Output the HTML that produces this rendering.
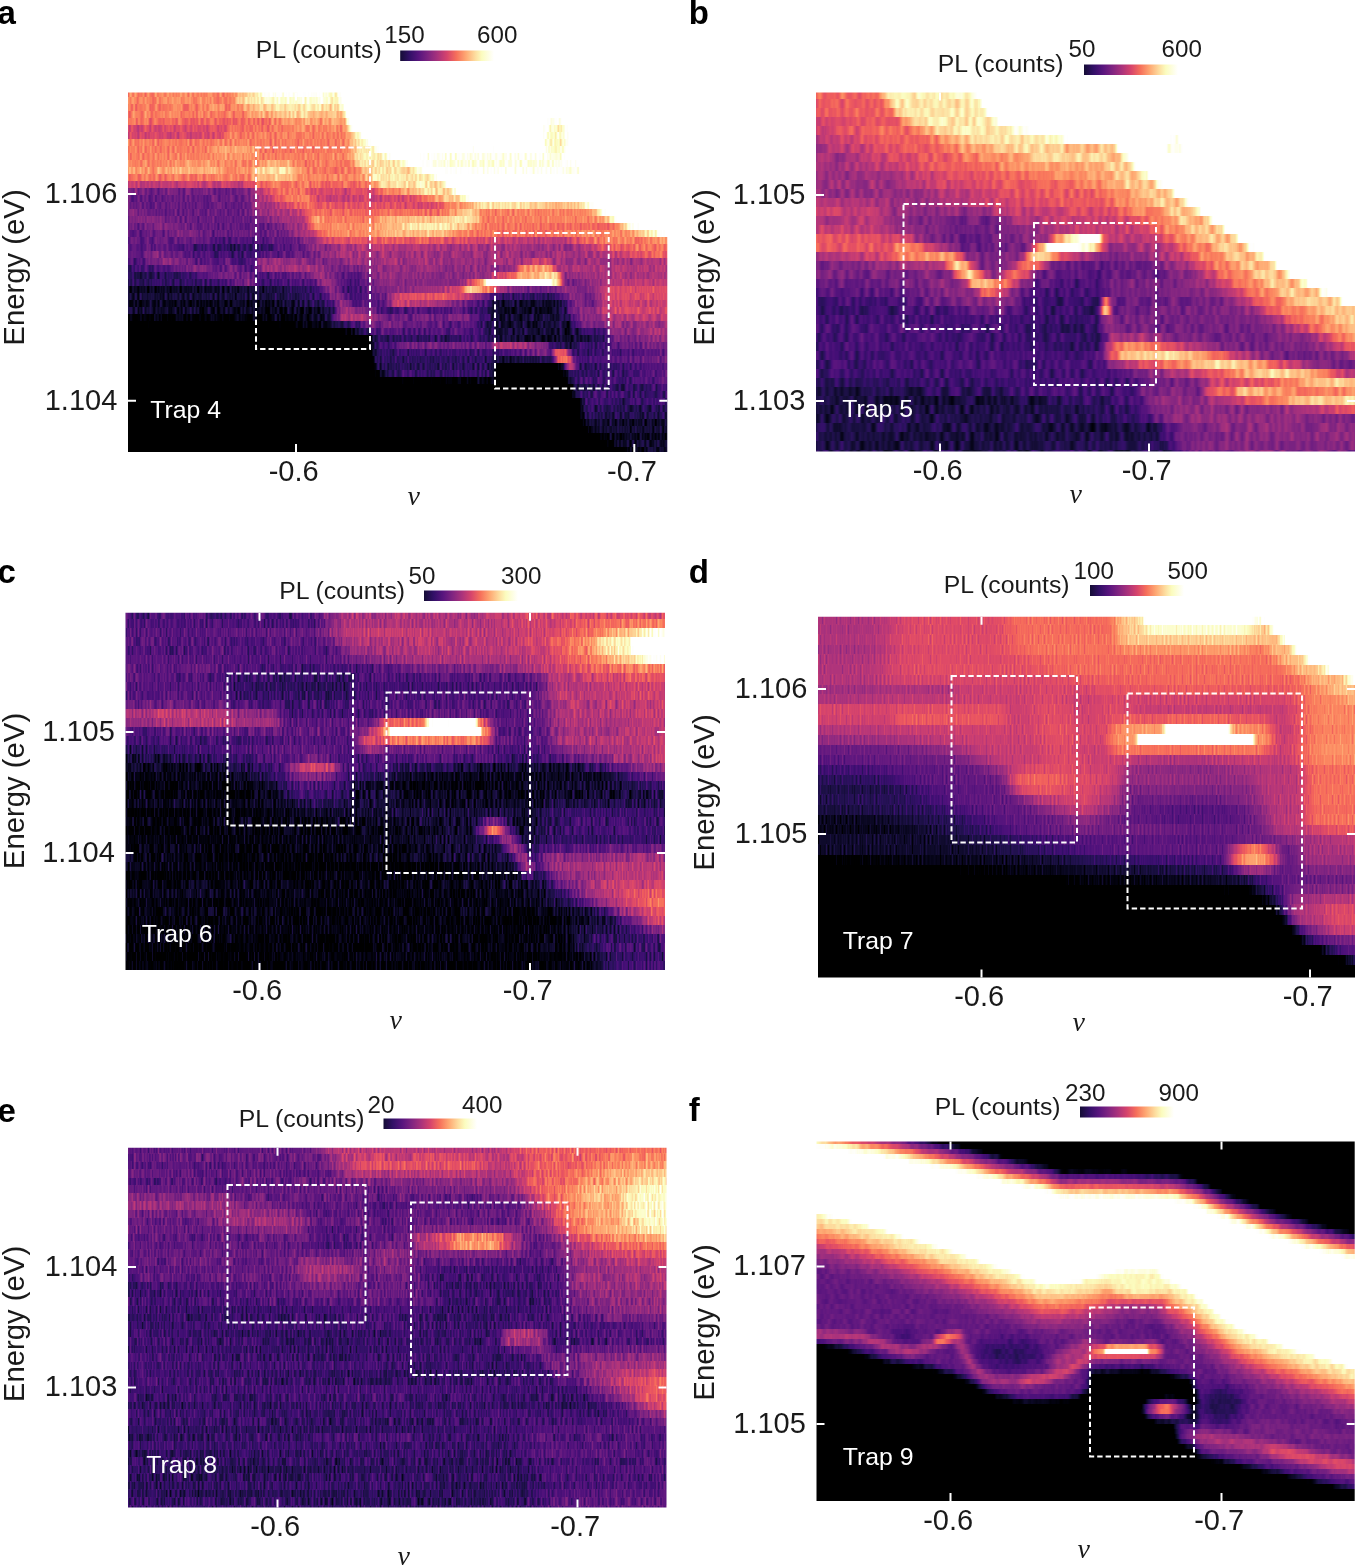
<!DOCTYPE html>
<html lang="en"><head><meta charset="utf-8"><title>PL maps of traps 4-9</title>
<style>html,body{margin:0;padding:0;background:#fff}body{width:1358px;height:1566px;overflow:hidden;position:relative}svg{display:block;position:absolute;left:0;top:0}text{font-family:"Liberation Sans",sans-serif;fill:#1a1a1a}.tk{font-size:29px}.sm{font-size:24.8px}.nm{font-size:24.2px}.ax{font-size:29.3px}.pl{font-size:33px;font-weight:bold;fill:#000}.nu{font-family:"Liberation Serif",serif;font-style:italic;font-size:28px}.tr{fill:#fff;font-size:24.8px}.bx{fill:none;stroke:#fff;stroke-width:2;stroke-dasharray:5.4 3}.ti{stroke:#fff;stroke-width:2}</style></head><body>
<svg width="1358" height="1566" viewBox="0 0 1358 1566">
<defs>
<linearGradient id="cb" x1="0" x2="1" y1="0" y2="0">
<stop offset="0.00" stop-color="#140d35"/>
<stop offset="0.10" stop-color="#321067"/>
<stop offset="0.20" stop-color="#58157e"/>
<stop offset="0.30" stop-color="#7f2481"/>
<stop offset="0.40" stop-color="#a9327c"/>
<stop offset="0.50" stop-color="#d6446c"/>
<stop offset="0.60" stop-color="#f6705b"/>
<stop offset="0.70" stop-color="#fea873"/>
<stop offset="0.80" stop-color="#fddd9f"/>
<stop offset="0.87" stop-color="#fbfcbf"/>
<stop offset="1" stop-color="#fff"/></linearGradient>
<filter id="ba12" filterUnits="userSpaceOnUse" x="83" y="47.5" width="629.3" height="449.5" color-interpolation-filters="sRGB"><feGaussianBlur stdDeviation="12"/></filter>
<filter id="ba2" filterUnits="userSpaceOnUse" x="83" y="47.5" width="629.3" height="449.5" color-interpolation-filters="sRGB"><feGaussianBlur stdDeviation="2"/></filter>
<filter id="ba2_5" filterUnits="userSpaceOnUse" x="83" y="47.5" width="629.3" height="449.5" color-interpolation-filters="sRGB"><feGaussianBlur stdDeviation="2.5"/></filter>
<filter id="ba3" filterUnits="userSpaceOnUse" x="83" y="47.5" width="629.3" height="449.5" color-interpolation-filters="sRGB"><feGaussianBlur stdDeviation="3"/></filter>
<filter id="ba3_5" filterUnits="userSpaceOnUse" x="83" y="47.5" width="629.3" height="449.5" color-interpolation-filters="sRGB"><feGaussianBlur stdDeviation="3.5"/></filter>
<filter id="ba4" filterUnits="userSpaceOnUse" x="83" y="47.5" width="629.3" height="449.5" color-interpolation-filters="sRGB"><feGaussianBlur stdDeviation="4"/></filter>
<filter id="ba5" filterUnits="userSpaceOnUse" x="83" y="47.5" width="629.3" height="449.5" color-interpolation-filters="sRGB"><feGaussianBlur stdDeviation="5"/></filter>
<filter id="ba6" filterUnits="userSpaceOnUse" x="83" y="47.5" width="629.3" height="449.5" color-interpolation-filters="sRGB"><feGaussianBlur stdDeviation="6"/></filter>
<filter id="ba7" filterUnits="userSpaceOnUse" x="83" y="47.5" width="629.3" height="449.5" color-interpolation-filters="sRGB"><feGaussianBlur stdDeviation="7"/></filter>
<filter id="ba8" filterUnits="userSpaceOnUse" x="83" y="47.5" width="629.3" height="449.5" color-interpolation-filters="sRGB"><feGaussianBlur stdDeviation="8"/></filter>
<filter id="ba9" filterUnits="userSpaceOnUse" x="83" y="47.5" width="629.3" height="449.5" color-interpolation-filters="sRGB"><feGaussianBlur stdDeviation="9"/></filter>
<filter id="bb10" filterUnits="userSpaceOnUse" x="771" y="47.5" width="629" height="449.0" color-interpolation-filters="sRGB"><feGaussianBlur stdDeviation="10"/></filter>
<filter id="bb2" filterUnits="userSpaceOnUse" x="771" y="47.5" width="629" height="449.0" color-interpolation-filters="sRGB"><feGaussianBlur stdDeviation="2"/></filter>
<filter id="bb2_2" filterUnits="userSpaceOnUse" x="771" y="47.5" width="629" height="449.0" color-interpolation-filters="sRGB"><feGaussianBlur stdDeviation="2.2"/></filter>
<filter id="bb3" filterUnits="userSpaceOnUse" x="771" y="47.5" width="629" height="449.0" color-interpolation-filters="sRGB"><feGaussianBlur stdDeviation="3"/></filter>
<filter id="bb3_5" filterUnits="userSpaceOnUse" x="771" y="47.5" width="629" height="449.0" color-interpolation-filters="sRGB"><feGaussianBlur stdDeviation="3.5"/></filter>
<filter id="bb4" filterUnits="userSpaceOnUse" x="771" y="47.5" width="629" height="449.0" color-interpolation-filters="sRGB"><feGaussianBlur stdDeviation="4"/></filter>
<filter id="bb4_5" filterUnits="userSpaceOnUse" x="771" y="47.5" width="629" height="449.0" color-interpolation-filters="sRGB"><feGaussianBlur stdDeviation="4.5"/></filter>
<filter id="bb5" filterUnits="userSpaceOnUse" x="771" y="47.5" width="629" height="449.0" color-interpolation-filters="sRGB"><feGaussianBlur stdDeviation="5"/></filter>
<filter id="bb6" filterUnits="userSpaceOnUse" x="771" y="47.5" width="629" height="449.0" color-interpolation-filters="sRGB"><feGaussianBlur stdDeviation="6"/></filter>
<filter id="bb7" filterUnits="userSpaceOnUse" x="771" y="47.5" width="629" height="449.0" color-interpolation-filters="sRGB"><feGaussianBlur stdDeviation="7"/></filter>
<filter id="bb8" filterUnits="userSpaceOnUse" x="771" y="47.5" width="629" height="449.0" color-interpolation-filters="sRGB"><feGaussianBlur stdDeviation="8"/></filter>
<filter id="bb9" filterUnits="userSpaceOnUse" x="771" y="47.5" width="629" height="449.0" color-interpolation-filters="sRGB"><feGaussianBlur stdDeviation="9"/></filter>
<filter id="bc1_8" filterUnits="userSpaceOnUse" x="80.5" y="567.8" width="629.5" height="448.20000000000005" color-interpolation-filters="sRGB"><feGaussianBlur stdDeviation="1.8"/></filter>
<filter id="bc10" filterUnits="userSpaceOnUse" x="80.5" y="567.8" width="629.5" height="448.20000000000005" color-interpolation-filters="sRGB"><feGaussianBlur stdDeviation="10"/></filter>
<filter id="bc2" filterUnits="userSpaceOnUse" x="80.5" y="567.8" width="629.5" height="448.20000000000005" color-interpolation-filters="sRGB"><feGaussianBlur stdDeviation="2"/></filter>
<filter id="bc2_2" filterUnits="userSpaceOnUse" x="80.5" y="567.8" width="629.5" height="448.20000000000005" color-interpolation-filters="sRGB"><feGaussianBlur stdDeviation="2.2"/></filter>
<filter id="bc2_5" filterUnits="userSpaceOnUse" x="80.5" y="567.8" width="629.5" height="448.20000000000005" color-interpolation-filters="sRGB"><feGaussianBlur stdDeviation="2.5"/></filter>
<filter id="bc3" filterUnits="userSpaceOnUse" x="80.5" y="567.8" width="629.5" height="448.20000000000005" color-interpolation-filters="sRGB"><feGaussianBlur stdDeviation="3"/></filter>
<filter id="bc3_5" filterUnits="userSpaceOnUse" x="80.5" y="567.8" width="629.5" height="448.20000000000005" color-interpolation-filters="sRGB"><feGaussianBlur stdDeviation="3.5"/></filter>
<filter id="bc4" filterUnits="userSpaceOnUse" x="80.5" y="567.8" width="629.5" height="448.20000000000005" color-interpolation-filters="sRGB"><feGaussianBlur stdDeviation="4"/></filter>
<filter id="bc4_5" filterUnits="userSpaceOnUse" x="80.5" y="567.8" width="629.5" height="448.20000000000005" color-interpolation-filters="sRGB"><feGaussianBlur stdDeviation="4.5"/></filter>
<filter id="bc5" filterUnits="userSpaceOnUse" x="80.5" y="567.8" width="629.5" height="448.20000000000005" color-interpolation-filters="sRGB"><feGaussianBlur stdDeviation="5"/></filter>
<filter id="bc6" filterUnits="userSpaceOnUse" x="80.5" y="567.8" width="629.5" height="448.20000000000005" color-interpolation-filters="sRGB"><feGaussianBlur stdDeviation="6"/></filter>
<filter id="bc7" filterUnits="userSpaceOnUse" x="80.5" y="567.8" width="629.5" height="448.20000000000005" color-interpolation-filters="sRGB"><feGaussianBlur stdDeviation="7"/></filter>
<filter id="bc8" filterUnits="userSpaceOnUse" x="80.5" y="567.8" width="629.5" height="448.20000000000005" color-interpolation-filters="sRGB"><feGaussianBlur stdDeviation="8"/></filter>
<filter id="bc9" filterUnits="userSpaceOnUse" x="80.5" y="567.8" width="629.5" height="448.20000000000005" color-interpolation-filters="sRGB"><feGaussianBlur stdDeviation="9"/></filter>
<filter id="bd10" filterUnits="userSpaceOnUse" x="773" y="571.8" width="627" height="450.70000000000005" color-interpolation-filters="sRGB"><feGaussianBlur stdDeviation="10"/></filter>
<filter id="bd12" filterUnits="userSpaceOnUse" x="773" y="571.8" width="627" height="450.70000000000005" color-interpolation-filters="sRGB"><feGaussianBlur stdDeviation="12"/></filter>
<filter id="bd2" filterUnits="userSpaceOnUse" x="773" y="571.8" width="627" height="450.70000000000005" color-interpolation-filters="sRGB"><feGaussianBlur stdDeviation="2"/></filter>
<filter id="bd2_2" filterUnits="userSpaceOnUse" x="773" y="571.8" width="627" height="450.70000000000005" color-interpolation-filters="sRGB"><feGaussianBlur stdDeviation="2.2"/></filter>
<filter id="bd3" filterUnits="userSpaceOnUse" x="773" y="571.8" width="627" height="450.70000000000005" color-interpolation-filters="sRGB"><feGaussianBlur stdDeviation="3"/></filter>
<filter id="bd4" filterUnits="userSpaceOnUse" x="773" y="571.8" width="627" height="450.70000000000005" color-interpolation-filters="sRGB"><feGaussianBlur stdDeviation="4"/></filter>
<filter id="bd4_5" filterUnits="userSpaceOnUse" x="773" y="571.8" width="627" height="450.70000000000005" color-interpolation-filters="sRGB"><feGaussianBlur stdDeviation="4.5"/></filter>
<filter id="bd5" filterUnits="userSpaceOnUse" x="773" y="571.8" width="627" height="450.70000000000005" color-interpolation-filters="sRGB"><feGaussianBlur stdDeviation="5"/></filter>
<filter id="bd5_5" filterUnits="userSpaceOnUse" x="773" y="571.8" width="627" height="450.70000000000005" color-interpolation-filters="sRGB"><feGaussianBlur stdDeviation="5.5"/></filter>
<filter id="bd6" filterUnits="userSpaceOnUse" x="773" y="571.8" width="627" height="450.70000000000005" color-interpolation-filters="sRGB"><feGaussianBlur stdDeviation="6"/></filter>
<filter id="bd7" filterUnits="userSpaceOnUse" x="773" y="571.8" width="627" height="450.70000000000005" color-interpolation-filters="sRGB"><feGaussianBlur stdDeviation="7"/></filter>
<filter id="bd8" filterUnits="userSpaceOnUse" x="773" y="571.8" width="627" height="450.70000000000005" color-interpolation-filters="sRGB"><feGaussianBlur stdDeviation="8"/></filter>
<filter id="bd9" filterUnits="userSpaceOnUse" x="773" y="571.8" width="627" height="450.70000000000005" color-interpolation-filters="sRGB"><feGaussianBlur stdDeviation="9"/></filter>
<filter id="be10" filterUnits="userSpaceOnUse" x="83" y="1102.8" width="628.5" height="449.70000000000005" color-interpolation-filters="sRGB"><feGaussianBlur stdDeviation="10"/></filter>
<filter id="be12" filterUnits="userSpaceOnUse" x="83" y="1102.8" width="628.5" height="449.70000000000005" color-interpolation-filters="sRGB"><feGaussianBlur stdDeviation="12"/></filter>
<filter id="be2_2" filterUnits="userSpaceOnUse" x="83" y="1102.8" width="628.5" height="449.70000000000005" color-interpolation-filters="sRGB"><feGaussianBlur stdDeviation="2.2"/></filter>
<filter id="be3" filterUnits="userSpaceOnUse" x="83" y="1102.8" width="628.5" height="449.70000000000005" color-interpolation-filters="sRGB"><feGaussianBlur stdDeviation="3"/></filter>
<filter id="be4" filterUnits="userSpaceOnUse" x="83" y="1102.8" width="628.5" height="449.70000000000005" color-interpolation-filters="sRGB"><feGaussianBlur stdDeviation="4"/></filter>
<filter id="be4_5" filterUnits="userSpaceOnUse" x="83" y="1102.8" width="628.5" height="449.70000000000005" color-interpolation-filters="sRGB"><feGaussianBlur stdDeviation="4.5"/></filter>
<filter id="be5" filterUnits="userSpaceOnUse" x="83" y="1102.8" width="628.5" height="449.70000000000005" color-interpolation-filters="sRGB"><feGaussianBlur stdDeviation="5"/></filter>
<filter id="be6" filterUnits="userSpaceOnUse" x="83" y="1102.8" width="628.5" height="449.70000000000005" color-interpolation-filters="sRGB"><feGaussianBlur stdDeviation="6"/></filter>
<filter id="be7" filterUnits="userSpaceOnUse" x="83" y="1102.8" width="628.5" height="449.70000000000005" color-interpolation-filters="sRGB"><feGaussianBlur stdDeviation="7"/></filter>
<filter id="be8" filterUnits="userSpaceOnUse" x="83" y="1102.8" width="628.5" height="449.70000000000005" color-interpolation-filters="sRGB"><feGaussianBlur stdDeviation="8"/></filter>
<filter id="be9" filterUnits="userSpaceOnUse" x="83" y="1102.8" width="628.5" height="449.70000000000005" color-interpolation-filters="sRGB"><feGaussianBlur stdDeviation="9"/></filter>
<filter id="bf1_5" filterUnits="userSpaceOnUse" x="771.5" y="1096.5" width="628.2" height="449.5" color-interpolation-filters="sRGB"><feGaussianBlur stdDeviation="1.5"/></filter>
<filter id="bf2" filterUnits="userSpaceOnUse" x="771.5" y="1096.5" width="628.2" height="449.5" color-interpolation-filters="sRGB"><feGaussianBlur stdDeviation="2"/></filter>
<filter id="bf2_2" filterUnits="userSpaceOnUse" x="771.5" y="1096.5" width="628.2" height="449.5" color-interpolation-filters="sRGB"><feGaussianBlur stdDeviation="2.2"/></filter>
<filter id="bf2_5" filterUnits="userSpaceOnUse" x="771.5" y="1096.5" width="628.2" height="449.5" color-interpolation-filters="sRGB"><feGaussianBlur stdDeviation="2.5"/></filter>
<filter id="bf2_8" filterUnits="userSpaceOnUse" x="771.5" y="1096.5" width="628.2" height="449.5" color-interpolation-filters="sRGB"><feGaussianBlur stdDeviation="2.8"/></filter>
<filter id="bf3" filterUnits="userSpaceOnUse" x="771.5" y="1096.5" width="628.2" height="449.5" color-interpolation-filters="sRGB"><feGaussianBlur stdDeviation="3"/></filter>
<filter id="bf3_5" filterUnits="userSpaceOnUse" x="771.5" y="1096.5" width="628.2" height="449.5" color-interpolation-filters="sRGB"><feGaussianBlur stdDeviation="3.5"/></filter>
<filter id="bf4" filterUnits="userSpaceOnUse" x="771.5" y="1096.5" width="628.2" height="449.5" color-interpolation-filters="sRGB"><feGaussianBlur stdDeviation="4"/></filter>
<filter id="bf5" filterUnits="userSpaceOnUse" x="771.5" y="1096.5" width="628.2" height="449.5" color-interpolation-filters="sRGB"><feGaussianBlur stdDeviation="5"/></filter>
<filter id="bf7" filterUnits="userSpaceOnUse" x="771.5" y="1096.5" width="628.2" height="449.5" color-interpolation-filters="sRGB"><feGaussianBlur stdDeviation="7"/></filter>
<clipPath id="cpa"><rect x="128" y="92.5" width="539.3" height="359.5"/></clipPath>
<filter id="cma" filterUnits="userSpaceOnUse" x="126" y="90" width="545" height="365" color-interpolation-filters="sRGB">
<feTurbulence type="fractalNoise" baseFrequency="0.4 0.7" numOctaves="1" seed="97" result="t"/>
<feColorMatrix in="t" type="matrix" values="1 0 0 0 0 1 0 0 0 0 1 0 0 0 0 0 0 0 0 1" result="n"/>
<feComposite in="SourceGraphic" in2="n" operator="arithmetic" k1="0" k2="1" k3="0.22" k4="-0.11" result="s"/>
<feTurbulence type="fractalNoise" baseFrequency="0.004 0.45" numOctaves="1" seed="137" result="t2"/>
<feColorMatrix in="t2" type="matrix" values="1 0 0 0 0 1 0 0 0 0 1 0 0 0 0 0 0 0 0 1" result="n2"/>
<feComposite in="s" in2="n2" operator="arithmetic" k1="0" k2="1" k3="0.1" k4="-0.05" result="s"/>
<feFlood flood-color="#000" x="126" y="93" width="545" height="1" result="f"/>
<feComposite in="f" in2="f" operator="over" x="126" y="90" width="545" height="7" result="c"/>
<feTile in="c" result="tl"/>
<feComposite in="s" in2="tl" operator="in" result="ln"/>
<feMorphology in="ln" operator="dilate" radius="0 3" result="q"/>
<feComponentTransfer in="q"><feFuncR type="table" tableValues="0.000 0.000 0.000 0.000 0.000 0.000 0.011 0.036 0.070 0.108 0.147 0.198 0.252 0.304 0.348 0.396 0.445 0.494 0.538 0.588 0.639 0.691 0.736 0.786 0.835 0.879 0.913 0.944 0.966 0.980 0.988 0.993 0.996 0.997 0.997 0.995 0.992 0.989 0.987 0.991 0.995 0.999 1.000 1.000 1.000 1.000 1.000 1.000 1.000 1.000 1.000"/><feFuncG type="table" tableValues="0.000 0.000 0.000 0.000 0.000 0.000 0.010 0.028 0.050 0.064 0.069 0.064 0.059 0.068 0.083 0.103 0.123 0.141 0.157 0.174 0.190 0.206 0.222 0.242 0.266 0.296 0.330 0.378 0.433 0.491 0.543 0.602 0.661 0.719 0.770 0.827 0.884 0.941 0.991 0.994 0.997 0.999 1.000 1.000 1.000 1.000 1.000 1.000 1.000 1.000 1.000"/><feFuncB type="table" tableValues="0.000 0.000 0.000 0.000 0.000 0.000 0.061 0.125 0.194 0.267 0.334 0.404 0.453 0.481 0.494 0.503 0.507 0.508 0.507 0.502 0.494 0.483 0.469 0.450 0.428 0.403 0.383 0.365 0.360 0.368 0.385 0.414 0.451 0.494 0.535 0.586 0.640 0.698 0.750 0.825 0.901 0.977 1.000 1.000 1.000 1.000 1.000 1.000 1.000 1.000 1.000"/></feComponentTransfer>
</filter>
<clipPath id="cpb"><rect x="816" y="92.5" width="539" height="359.0"/></clipPath>
<filter id="cmb" filterUnits="userSpaceOnUse" x="814" y="90" width="545" height="365" color-interpolation-filters="sRGB">
<feTurbulence type="fractalNoise" baseFrequency="0.2 0.7" numOctaves="1" seed="98" result="t"/>
<feColorMatrix in="t" type="matrix" values="1 0 0 0 0 1 0 0 0 0 1 0 0 0 0 0 0 0 0 1" result="n"/>
<feComposite in="SourceGraphic" in2="n" operator="arithmetic" k1="0" k2="1" k3="0.2" k4="-0.1" result="s"/>
<feTurbulence type="fractalNoise" baseFrequency="0.004 0.45" numOctaves="1" seed="138" result="t2"/>
<feColorMatrix in="t2" type="matrix" values="1 0 0 0 0 1 0 0 0 0 1 0 0 0 0 0 0 0 0 1" result="n2"/>
<feComposite in="s" in2="n2" operator="arithmetic" k1="0" k2="1" k3="0.06" k4="-0.03" result="s"/>
<feFlood flood-color="#000" x="814" y="94" width="545" height="1" result="f"/>
<feComposite in="f" in2="f" operator="over" x="814" y="90" width="545" height="9" result="c"/>
<feTile in="c" result="tl"/>
<feComposite in="s" in2="tl" operator="in" result="ln"/>
<feMorphology in="ln" operator="dilate" radius="0 4" result="q"/>
<feComponentTransfer in="q"><feFuncR type="table" tableValues="0.000 0.000 0.000 0.000 0.000 0.000 0.011 0.036 0.070 0.108 0.147 0.198 0.252 0.304 0.348 0.396 0.445 0.494 0.538 0.588 0.639 0.691 0.736 0.786 0.835 0.879 0.913 0.944 0.966 0.980 0.988 0.993 0.996 0.997 0.997 0.995 0.992 0.989 0.987 0.991 0.995 0.999 1.000 1.000 1.000 1.000 1.000 1.000 1.000 1.000 1.000"/><feFuncG type="table" tableValues="0.000 0.000 0.000 0.000 0.000 0.000 0.010 0.028 0.050 0.064 0.069 0.064 0.059 0.068 0.083 0.103 0.123 0.141 0.157 0.174 0.190 0.206 0.222 0.242 0.266 0.296 0.330 0.378 0.433 0.491 0.543 0.602 0.661 0.719 0.770 0.827 0.884 0.941 0.991 0.994 0.997 0.999 1.000 1.000 1.000 1.000 1.000 1.000 1.000 1.000 1.000"/><feFuncB type="table" tableValues="0.000 0.000 0.000 0.000 0.000 0.000 0.061 0.125 0.194 0.267 0.334 0.404 0.453 0.481 0.494 0.503 0.507 0.508 0.507 0.502 0.494 0.483 0.469 0.450 0.428 0.403 0.383 0.365 0.360 0.368 0.385 0.414 0.451 0.494 0.535 0.586 0.640 0.698 0.750 0.825 0.901 0.977 1.000 1.000 1.000 1.000 1.000 1.000 1.000 1.000 1.000"/></feComponentTransfer>
</filter>
<clipPath id="cpc"><rect x="125.5" y="612.8" width="539.5" height="358.20000000000005"/></clipPath>
<filter id="cmc" filterUnits="userSpaceOnUse" x="123" y="610" width="545" height="364" color-interpolation-filters="sRGB">
<feTurbulence type="fractalNoise" baseFrequency="0.5 0.7" numOctaves="1" seed="99" result="t"/>
<feColorMatrix in="t" type="matrix" values="1 0 0 0 0 1 0 0 0 0 1 0 0 0 0 0 0 0 0 1" result="n"/>
<feComposite in="SourceGraphic" in2="n" operator="arithmetic" k1="0" k2="1" k3="0.26" k4="-0.13" result="s"/>
<feTurbulence type="fractalNoise" baseFrequency="0.004 0.45" numOctaves="1" seed="139" result="t2"/>
<feColorMatrix in="t2" type="matrix" values="1 0 0 0 0 1 0 0 0 0 1 0 0 0 0 0 0 0 0 1" result="n2"/>
<feComposite in="s" in2="n2" operator="arithmetic" k1="0" k2="1" k3="0.1" k4="-0.05" result="s"/>
<feFlood flood-color="#000" x="123" y="614" width="545" height="1" result="f"/>
<feComposite in="f" in2="f" operator="over" x="123" y="610" width="545" height="9" result="c"/>
<feTile in="c" result="tl"/>
<feComposite in="s" in2="tl" operator="in" result="ln"/>
<feMorphology in="ln" operator="dilate" radius="0 4" result="q"/>
<feComponentTransfer in="q"><feFuncR type="table" tableValues="0.000 0.000 0.000 0.000 0.000 0.000 0.011 0.036 0.070 0.108 0.147 0.198 0.252 0.304 0.348 0.396 0.445 0.494 0.538 0.588 0.639 0.691 0.736 0.786 0.835 0.879 0.913 0.944 0.966 0.980 0.988 0.993 0.996 0.997 0.997 0.995 0.992 0.989 0.987 0.991 0.995 0.999 1.000 1.000 1.000 1.000 1.000 1.000 1.000 1.000 1.000"/><feFuncG type="table" tableValues="0.000 0.000 0.000 0.000 0.000 0.000 0.010 0.028 0.050 0.064 0.069 0.064 0.059 0.068 0.083 0.103 0.123 0.141 0.157 0.174 0.190 0.206 0.222 0.242 0.266 0.296 0.330 0.378 0.433 0.491 0.543 0.602 0.661 0.719 0.770 0.827 0.884 0.941 0.991 0.994 0.997 0.999 1.000 1.000 1.000 1.000 1.000 1.000 1.000 1.000 1.000"/><feFuncB type="table" tableValues="0.000 0.000 0.000 0.000 0.000 0.000 0.061 0.125 0.194 0.267 0.334 0.404 0.453 0.481 0.494 0.503 0.507 0.508 0.507 0.502 0.494 0.483 0.469 0.450 0.428 0.403 0.383 0.365 0.360 0.368 0.385 0.414 0.451 0.494 0.535 0.586 0.640 0.698 0.750 0.825 0.901 0.977 1.000 1.000 1.000 1.000 1.000 1.000 1.000 1.000 1.000"/></feComponentTransfer>
</filter>
<clipPath id="cpd"><rect x="818" y="616.8" width="537" height="360.70000000000005"/></clipPath>
<filter id="cmd" filterUnits="userSpaceOnUse" x="816" y="614" width="543" height="366" color-interpolation-filters="sRGB">
<feTurbulence type="fractalNoise" baseFrequency="0.5 0.7" numOctaves="1" seed="100" result="t"/>
<feColorMatrix in="t" type="matrix" values="1 0 0 0 0 1 0 0 0 0 1 0 0 0 0 0 0 0 0 1" result="n"/>
<feComposite in="SourceGraphic" in2="n" operator="arithmetic" k1="0" k2="1" k3="0.18" k4="-0.09" result="s"/>
<feTurbulence type="fractalNoise" baseFrequency="0.004 0.45" numOctaves="1" seed="140" result="t2"/>
<feColorMatrix in="t2" type="matrix" values="1 0 0 0 0 1 0 0 0 0 1 0 0 0 0 0 0 0 0 1" result="n2"/>
<feComposite in="s" in2="n2" operator="arithmetic" k1="0" k2="1" k3="0.06" k4="-0.03" result="s"/>
<feFlood flood-color="#000" x="816" y="619" width="543" height="1" result="f"/>
<feComposite in="f" in2="f" operator="over" x="816" y="614" width="543" height="10" result="c"/>
<feTile in="c" result="tl"/>
<feComposite in="s" in2="tl" operator="in" result="ln"/>
<feMorphology in="ln" operator="dilate" radius="0 5" result="q"/>
<feComponentTransfer in="q"><feFuncR type="table" tableValues="0.000 0.000 0.000 0.000 0.000 0.000 0.011 0.036 0.070 0.108 0.147 0.198 0.252 0.304 0.348 0.396 0.445 0.494 0.538 0.588 0.639 0.691 0.736 0.786 0.835 0.879 0.913 0.944 0.966 0.980 0.988 0.993 0.996 0.997 0.997 0.995 0.992 0.989 0.987 0.991 0.995 0.999 1.000 1.000 1.000 1.000 1.000 1.000 1.000 1.000 1.000"/><feFuncG type="table" tableValues="0.000 0.000 0.000 0.000 0.000 0.000 0.010 0.028 0.050 0.064 0.069 0.064 0.059 0.068 0.083 0.103 0.123 0.141 0.157 0.174 0.190 0.206 0.222 0.242 0.266 0.296 0.330 0.378 0.433 0.491 0.543 0.602 0.661 0.719 0.770 0.827 0.884 0.941 0.991 0.994 0.997 0.999 1.000 1.000 1.000 1.000 1.000 1.000 1.000 1.000 1.000"/><feFuncB type="table" tableValues="0.000 0.000 0.000 0.000 0.000 0.000 0.061 0.125 0.194 0.267 0.334 0.404 0.453 0.481 0.494 0.503 0.507 0.508 0.507 0.502 0.494 0.483 0.469 0.450 0.428 0.403 0.383 0.365 0.360 0.368 0.385 0.414 0.451 0.494 0.535 0.586 0.640 0.698 0.750 0.825 0.901 0.977 1.000 1.000 1.000 1.000 1.000 1.000 1.000 1.000 1.000"/></feComponentTransfer>
</filter>
<clipPath id="cpe"><rect x="128" y="1147.8" width="538.5" height="359.70000000000005"/></clipPath>
<filter id="cme" filterUnits="userSpaceOnUse" x="126" y="1145" width="544" height="365" color-interpolation-filters="sRGB">
<feTurbulence type="fractalNoise" baseFrequency="0.5 0.7" numOctaves="1" seed="101" result="t"/>
<feColorMatrix in="t" type="matrix" values="1 0 0 0 0 1 0 0 0 0 1 0 0 0 0 0 0 0 0 1" result="n"/>
<feComposite in="SourceGraphic" in2="n" operator="arithmetic" k1="0" k2="1" k3="0.26" k4="-0.13" result="s"/>
<feTurbulence type="fractalNoise" baseFrequency="0.004 0.45" numOctaves="1" seed="141" result="t2"/>
<feColorMatrix in="t2" type="matrix" values="1 0 0 0 0 1 0 0 0 0 1 0 0 0 0 0 0 0 0 1" result="n2"/>
<feComposite in="s" in2="n2" operator="arithmetic" k1="0" k2="1" k3="0.08" k4="-0.04" result="s"/>
<feFlood flood-color="#000" x="126" y="1149" width="544" height="1" result="f"/>
<feComposite in="f" in2="f" operator="over" x="126" y="1145" width="544" height="8" result="c"/>
<feTile in="c" result="tl"/>
<feComposite in="s" in2="tl" operator="in" result="ln"/>
<feMorphology in="ln" operator="dilate" radius="0 4" result="q"/>
<feComponentTransfer in="q"><feFuncR type="table" tableValues="0.000 0.000 0.000 0.000 0.000 0.000 0.011 0.036 0.070 0.108 0.147 0.198 0.252 0.304 0.348 0.396 0.445 0.494 0.538 0.588 0.639 0.691 0.736 0.786 0.835 0.879 0.913 0.944 0.966 0.980 0.988 0.993 0.996 0.997 0.997 0.995 0.992 0.989 0.987 0.991 0.995 0.999 1.000 1.000 1.000 1.000 1.000 1.000 1.000 1.000 1.000"/><feFuncG type="table" tableValues="0.000 0.000 0.000 0.000 0.000 0.000 0.010 0.028 0.050 0.064 0.069 0.064 0.059 0.068 0.083 0.103 0.123 0.141 0.157 0.174 0.190 0.206 0.222 0.242 0.266 0.296 0.330 0.378 0.433 0.491 0.543 0.602 0.661 0.719 0.770 0.827 0.884 0.941 0.991 0.994 0.997 0.999 1.000 1.000 1.000 1.000 1.000 1.000 1.000 1.000 1.000"/><feFuncB type="table" tableValues="0.000 0.000 0.000 0.000 0.000 0.000 0.061 0.125 0.194 0.267 0.334 0.404 0.453 0.481 0.494 0.503 0.507 0.508 0.507 0.502 0.494 0.483 0.469 0.450 0.428 0.403 0.383 0.365 0.360 0.368 0.385 0.414 0.451 0.494 0.535 0.586 0.640 0.698 0.750 0.825 0.901 0.977 1.000 1.000 1.000 1.000 1.000 1.000 1.000 1.000 1.000"/></feComponentTransfer>
</filter>
<clipPath id="cpf"><rect x="816.5" y="1141.5" width="538.2" height="359.5"/></clipPath>
<filter id="cmf" filterUnits="userSpaceOnUse" x="814" y="1139" width="544" height="365" color-interpolation-filters="sRGB">
<feTurbulence type="fractalNoise" baseFrequency="0.2 0.7" numOctaves="1" seed="102" result="t"/>
<feColorMatrix in="t" type="matrix" values="1 0 0 0 0 1 0 0 0 0 1 0 0 0 0 0 0 0 0 1" result="n"/>
<feComposite in="SourceGraphic" in2="n" operator="arithmetic" k1="0" k2="1" k3="0.1" k4="-0.05" result="s"/>
<feFlood flood-color="#000" x="814" y="1141" width="544" height="1" result="f"/>
<feComposite in="f" in2="f" operator="over" x="814" y="1139" width="544" height="5" result="c"/>
<feTile in="c" result="tl"/>
<feComposite in="s" in2="tl" operator="in" result="ln"/>
<feMorphology in="ln" operator="dilate" radius="0 2" result="q"/>
<feComponentTransfer in="q"><feFuncR type="table" tableValues="0.000 0.000 0.000 0.000 0.000 0.000 0.011 0.036 0.070 0.108 0.147 0.198 0.252 0.304 0.348 0.396 0.445 0.494 0.538 0.588 0.639 0.691 0.736 0.786 0.835 0.879 0.913 0.944 0.966 0.980 0.988 0.993 0.996 0.997 0.997 0.995 0.992 0.989 0.987 0.991 0.995 0.999 1.000 1.000 1.000 1.000 1.000 1.000 1.000 1.000 1.000"/><feFuncG type="table" tableValues="0.000 0.000 0.000 0.000 0.000 0.000 0.010 0.028 0.050 0.064 0.069 0.064 0.059 0.068 0.083 0.103 0.123 0.141 0.157 0.174 0.190 0.206 0.222 0.242 0.266 0.296 0.330 0.378 0.433 0.491 0.543 0.602 0.661 0.719 0.770 0.827 0.884 0.941 0.991 0.994 0.997 0.999 1.000 1.000 1.000 1.000 1.000 1.000 1.000 1.000 1.000"/><feFuncB type="table" tableValues="0.000 0.000 0.000 0.000 0.000 0.000 0.061 0.125 0.194 0.267 0.334 0.404 0.453 0.481 0.494 0.503 0.507 0.508 0.507 0.502 0.494 0.483 0.469 0.450 0.428 0.403 0.383 0.365 0.360 0.368 0.385 0.414 0.451 0.494 0.535 0.586 0.640 0.698 0.750 0.825 0.901 0.977 1.000 1.000 1.000 1.000 1.000 1.000 1.000 1.000 1.000"/></feComponentTransfer>
</filter>
</defs>
<!-- panel a -->
<g clip-path="url(#cpa)"><g filter="url(#cma)">
<rect x="78" y="42.5" width="639.3" height="459.5" fill="#4c4c4c"/>
<polygon points="80,262 260,268 420,320 600,350 700,400 700,520 80,520" fill="#383838" filter="url(#ba12)"/>
<polygon points="596,240 700,235 700,345 640,340 600,330" fill="#6e6e6e" filter="url(#ba9)"/>
<polygon points="606,255 700,250 700,318 612,315" fill="#7e7e7e" filter="url(#ba8)" opacity="0.9"/>
<polygon points="585,418 700,412 700,520 640,480 600,460" fill="#252525" filter="url(#ba7)"/>
<polygon points="300,230 400,238 500,236 620,244 700,250 700,300 620,290 540,272 470,268 400,276 340,268" fill="#696969" filter="url(#ba8)"/>
<polygon points="372,240 500,240 500,286 440,292 372,290" fill="#646464" filter="url(#ba7)" opacity="0.75"/>
<polygon points="80,60 700,60 700,262 640,256 560,240 500,240 440,243 380,243 330,240 300,232 262,195 250,186 80,186" fill="#939393" filter="url(#ba5)"/>
<rect x="80" y="128" width="145" height="9" fill="#6e6e6e" filter="url(#ba2_5)" opacity="0.85"/>
<rect x="80" y="118" width="250" height="10" fill="#848484" filter="url(#ba3)" opacity="0.6"/>
<rect x="80" y="150" width="170" height="28" fill="#9d9d9d" filter="url(#ba4)" opacity="0.7"/>
<polyline points="178,168 218,168" fill="none" stroke="#aeaeae" stroke-width="7" stroke-linecap="round" stroke-linejoin="round" filter="url(#ba3)"/>
<polyline points="215,150 255,150" fill="none" stroke="#b1b1b1" stroke-width="8" stroke-linecap="round" stroke-linejoin="round" filter="url(#ba3_5)" opacity="0.8"/>
<polyline points="318,197 372,200 400,199 440,203" fill="none" stroke="#717171" stroke-width="13" stroke-linecap="round" stroke-linejoin="round" filter="url(#ba4)"/>
<polyline points="262,205 300,222" fill="none" stroke="#696969" stroke-width="22" stroke-linecap="round" stroke-linejoin="round" filter="url(#ba6)"/>
<polygon points="325,60 338,100 352,130 375,152 398,163 430,176 456,196 480,204 520,204 566,202 590,206 630,228 700,242 700,60" fill="#fefefe" filter="url(#ba4)"/>
<polygon points="238,60 330,60 345,118 300,124 240,108" fill="#b4b4b4" filter="url(#ba7)"/>
<polygon points="252,60 332,60 332,104 262,99" fill="#d6d6d6" filter="url(#ba4)" opacity="0.9"/>
<ellipse cx="276" cy="171" rx="24" ry="8" fill="#bdbdbd" filter="url(#ba4)"/>
<ellipse cx="316" cy="222" rx="7" ry="6" fill="#aeaeae" filter="url(#ba3)"/>
<ellipse cx="556" cy="138" rx="15" ry="22" fill="#bbbbbb" filter="url(#ba5)" opacity="0.9"/>
<polygon points="405,150 470,146 530,150 580,160 585,176 450,174 425,168" fill="#bdbdbd" filter="url(#ba5)" opacity="0.75"/>
<polyline points="385,225 440,226 472,217" fill="none" stroke="#bebebe" stroke-width="16" stroke-linecap="round" stroke-linejoin="round" filter="url(#ba4)"/>
<polygon points="350,126 372,148 415,170 462,196 456,204 415,195 375,187 354,162" fill="#bbbbbb" filter="url(#ba4)"/>
<polyline points="330,226 398,228" fill="none" stroke="#a0a0a0" stroke-width="13" stroke-linecap="round" stroke-linejoin="round" filter="url(#ba4)" opacity="0.8"/>
<polyline points="612,296 700,292" fill="none" stroke="#7e7e7e" stroke-width="20" stroke-linecap="round" stroke-linejoin="round" filter="url(#ba5)" opacity="0.9"/>
<polyline points="610,326 700,322" fill="none" stroke="#606060" stroke-width="12" stroke-linecap="round" stroke-linejoin="round" filter="url(#ba4)" opacity="0.7"/>
<polyline points="128,212 200,240 252,280" fill="none" stroke="#606060" stroke-width="8" stroke-linecap="round" stroke-linejoin="round" filter="url(#ba3_5)" opacity="0.8"/>
<polyline points="150,256 252,283" fill="none" stroke="#696969" stroke-width="7" stroke-linecap="round" stroke-linejoin="round" filter="url(#ba3)" opacity="0.9"/>
<ellipse cx="233" cy="250" rx="45" ry="9" fill="#313131" filter="url(#ba5)" opacity="0.8"/>
<polyline points="262,265 318,268" fill="none" stroke="#717171" stroke-width="11" stroke-linecap="round" stroke-linejoin="round" filter="url(#ba3_5)"/>
<polyline points="318,272 340,300 352,314" fill="none" stroke="#696969" stroke-width="10" stroke-linecap="round" stroke-linejoin="round" filter="url(#ba3_5)"/>
<polyline points="340,315 372,316" fill="none" stroke="#787878" stroke-width="11" stroke-linecap="round" stroke-linejoin="round" filter="url(#ba3)"/>
<polyline points="372,320 420,324 470,322" fill="none" stroke="#656565" stroke-width="12" stroke-linecap="round" stroke-linejoin="round" filter="url(#ba4)" opacity="0.85"/>
<polyline points="300,225 330,262 338,290" fill="none" stroke="#606060" stroke-width="9" stroke-linecap="round" stroke-linejoin="round" filter="url(#ba4)" opacity="0.7"/>
<ellipse cx="352" cy="287" rx="12" ry="12" fill="#343434" filter="url(#ba6)" opacity="0.6"/>
<polyline points="395,300 440,297 480,289" fill="none" stroke="#8c8c8c" stroke-width="10" stroke-linecap="round" stroke-linejoin="round" filter="url(#ba3_5)"/>
<polyline points="468,288 492,284" fill="none" stroke="#b9b9b9" stroke-width="8" stroke-linecap="round" stroke-linejoin="round" filter="url(#ba2_5)"/>
<polyline points="490,283 520,281 557,280" fill="none" stroke="#fefefe" stroke-width="10" stroke-linecap="round" stroke-linejoin="round" filter="url(#ba2)"/>
<polyline points="522,270 550,268" fill="none" stroke="#b1b1b1" stroke-width="9" stroke-linecap="round" stroke-linejoin="round" filter="url(#ba2_5)"/>
<polyline points="530,262 546,262" fill="none" stroke="#8f8f8f" stroke-width="6" stroke-linecap="round" stroke-linejoin="round" filter="url(#ba2_5)"/>
<polyline points="556,284 580,300 590,330" fill="none" stroke="#6e6e6e" stroke-width="9" stroke-linecap="round" stroke-linejoin="round" filter="url(#ba4)" opacity="0.7"/>
<ellipse cx="535" cy="252" rx="40" ry="12" fill="#656565" filter="url(#ba6)" opacity="0.7"/>
<polygon points="490,297 560,295 575,330 575,345 490,342" fill="#252525" filter="url(#ba5)" opacity="0.9"/>
<polyline points="470,310 560,310" fill="none" stroke="#1d1d1d" stroke-width="8" stroke-linecap="round" stroke-linejoin="round" filter="url(#ba4)" opacity="0.5"/>
<polyline points="405,334 495,334 600,336" fill="none" stroke="#2a2a2a" stroke-width="14" stroke-linecap="round" stroke-linejoin="round" filter="url(#ba4)" opacity="0.85"/>
<polyline points="495,322 560,322" fill="none" stroke="#3f3f3f" stroke-width="5" stroke-linecap="round" stroke-linejoin="round" filter="url(#ba2_5)" opacity="0.7"/>
<polyline points="400,345 495,345 548,349" fill="none" stroke="#5d5d5d" stroke-width="8" stroke-linecap="round" stroke-linejoin="round" filter="url(#ba3)" opacity="0.9"/>
<polyline points="495,345 545,349" fill="none" stroke="#767676" stroke-width="6" stroke-linecap="round" stroke-linejoin="round" filter="url(#ba2)"/>
<ellipse cx="563" cy="357" rx="8" ry="6" fill="#aeaeae" filter="url(#ba2_5)"/>
<polyline points="556,352 572,366" fill="none" stroke="#8f8f8f" stroke-width="7" stroke-linecap="round" stroke-linejoin="round" filter="url(#ba2_5)"/>
<polyline points="380,330 480,334" fill="none" stroke="#4f4f4f" stroke-width="10" stroke-linecap="round" stroke-linejoin="round" filter="url(#ba4)" opacity="0.6"/>
<polygon points="80,311 256,317 330,326 368,337 374,372 398,380 440,379 500,382 560,390 578,398 584,425 604,442 640,458 700,520 80,520" fill="#000000" filter="url(#ba3_5)"/>
<polygon points="80,280 256,290 330,306 330,330 80,325" fill="#1f1f1f" filter="url(#ba9)" opacity="0.75"/>
<polygon points="330,334 372,338 372,352 330,352" fill="#090909" filter="url(#ba4)" opacity="0.9"/>
<polygon points="495,362 560,364 575,395 495,385" fill="#000000" filter="url(#ba4)"/>
</g></g>
<path class="ti" d="M128 194h8 M667.3 194h-8"/>
<text class="tk" text-anchor="end" x="117.3" y="202.9">1.106</text>
<path class="ti" d="M128 400.7h8 M667.3 400.7h-8"/>
<text class="tk" text-anchor="end" x="117.3" y="409.59999999999997">1.104</text>
<path class="ti" d="M296 92.5v8 M296 452v-8"/>
<text class="tk" text-anchor="middle" x="293.7" y="480.7">-0.6</text>
<path class="ti" d="M634.3 92.5v8 M634.3 452v-8"/>
<text class="tk" text-anchor="middle" x="632.0" y="480.7">-0.7</text>
<rect class="bx" x="256" y="147.5" width="114" height="201.5"/>
<rect class="bx" x="495" y="233" width="113.70000000000005" height="155.60000000000002"/>
<text class="pl" x="-2.4" y="23.5">a</text>
<text class="sm" x="255.8" y="57.5">PL (counts)</text>
<text class="nm" x="384.3" y="42.8">150</text>
<text class="nm" x="477.0" y="42.8">600</text>
<rect x="400.2" y="50.5" width="93.80000000000001" height="10.5" fill="url(#cb)"/>
<text class="tr" x="150.3" y="417.5">Trap 4</text>
<text class="ax" text-anchor="middle" transform="translate(24.3 267.5) rotate(-90)">Energy (eV)</text>
<text class="nu" text-anchor="middle" x="413.7" y="505">ν</text>
<!-- panel b -->
<g clip-path="url(#cpb)"><g filter="url(#cmb)">
<rect x="766" y="42.5" width="639" height="459.0" fill="#3f3f3f"/>
<polygon points="770,375 1000,385 1150,420 1250,470 1250,520 770,520" fill="#2f2f2f" filter="url(#bb10)"/>
<polygon points="770,40 1400,40 1400,420 1300,360 1210,305 1150,275 1100,268 1040,280 1000,308 960,308 900,292 860,290 770,290" fill="#565656" filter="url(#bb9)"/>
<polygon points="770,40 1400,40 1400,400 1300,345 1210,292 1150,258 1080,240 1000,232 900,225 770,222" fill="#646464" filter="url(#bb8)"/>
<polygon points="770,40 1400,40 1400,390 1300,335 1210,282 1156,250 1100,238 1016,222 941,197 816,142 770,135" fill="#767676" filter="url(#bb8)"/>
<polygon points="770,40 1400,40 1400,365 1300,310 1250,280 1200,248 1156,222 1100,212 1016,197 941,175 816,117 770,108" fill="#898989" filter="url(#bb8)"/>
<polygon points="860,40 1400,40 1400,340 1300,290 1230,245 1180,212 1120,186 1050,170 1000,160 940,140 900,112" fill="#969696" filter="url(#bb7)"/>
<ellipse cx="972" cy="232" rx="30" ry="17" fill="#474747" filter="url(#bb7)" opacity="0.95"/>
<polyline points="905,215 960,222 1034,238" fill="none" stroke="#565656" stroke-width="20" stroke-linecap="round" stroke-linejoin="round" filter="url(#bb7)" opacity="0.8"/>
<polygon points="1110,262 1200,290 1400,380 1400,520 1230,520 1160,420 1115,340" fill="#565656" filter="url(#bb9)"/>
<polyline points="800,240 860,244 905,250" fill="none" stroke="#898989" stroke-width="26" stroke-linecap="round" stroke-linejoin="round" filter="url(#bb7)"/>
<polyline points="800,212 880,218" fill="none" stroke="#787878" stroke-width="22" stroke-linecap="round" stroke-linejoin="round" filter="url(#bb7)" opacity="0.85"/>
<polyline points="900,251 950,258 968,272 988,288" fill="none" stroke="#a0a0a0" stroke-width="15" stroke-linecap="round" stroke-linejoin="round" filter="url(#bb4_5)"/>
<polyline points="955,264 972,278 990,289 1000,286" fill="none" stroke="#b9b9b9" stroke-width="9" stroke-linecap="round" stroke-linejoin="round" filter="url(#bb3)"/>
<polyline points="1000,286 1022,270 1040,256" fill="none" stroke="#989898" stroke-width="14" stroke-linecap="round" stroke-linejoin="round" filter="url(#bb4_5)"/>
<polyline points="940,285 985,305 1010,300" fill="none" stroke="#656565" stroke-width="14" stroke-linecap="round" stroke-linejoin="round" filter="url(#bb6)" opacity="0.7"/>
<polyline points="1038,256 1060,247 1096,243" fill="none" stroke="#b9b9b9" stroke-width="17" stroke-linecap="round" stroke-linejoin="round" filter="url(#bb4)"/>
<polyline points="1052,246 1096,241" fill="none" stroke="#fefefe" stroke-width="9" stroke-linecap="round" stroke-linejoin="round" filter="url(#bb2_2)"/>
<polygon points="1034,300 1095,295 1100,320 1108,350 1034,350" fill="#393939" filter="url(#bb7)" opacity="0.85"/>
<ellipse cx="1106" cy="307" rx="5" ry="6.5" fill="#d3d3d3" filter="url(#bb2)"/>
<polyline points="1108,318 1112,336 1120,350" fill="none" stroke="#767676" stroke-width="9" stroke-linecap="round" stroke-linejoin="round" filter="url(#bb3_5)" opacity="0.9"/>
<ellipse cx="1140" cy="300" rx="20" ry="14" fill="#4c4c4c" filter="url(#bb7)" opacity="0.7"/>
<polygon points="955,40 966,92 990,122 1035,138 1116,146 1134,168 1172,192 1213,222 1253,250 1294,278 1330,296 1400,328 1400,40" fill="#fefefe" filter="url(#bb5)"/>
<polyline points="920,92 978,134 1035,152 1110,160 1128,182 1166,206 1207,236 1247,264 1288,292 1357,324" fill="none" stroke="#bdbdbd" stroke-width="14" stroke-linecap="round" stroke-linejoin="round" filter="url(#bb5)" opacity="0.9"/>
<polyline points="905,100 970,150 1035,168 1104,176 1120,198 1160,222 1200,252 1240,280 1282,308 1357,340" fill="none" stroke="#a9a9a9" stroke-width="14" stroke-linecap="round" stroke-linejoin="round" filter="url(#bb6)" opacity="0.75"/>
<ellipse cx="1175" cy="146" rx="14" ry="9" fill="#bdbdbd" filter="url(#bb4)" opacity="0.9"/>
<polygon points="864,70 962,70 997,128 1060,140 1060,150 975,141 940,133 902,120" fill="#bbbbbb" filter="url(#bb5)"/>
<polyline points="1160,318 1260,350 1357,372" fill="none" stroke="#4f4f4f" stroke-width="14" stroke-linecap="round" stroke-linejoin="round" filter="url(#bb6)" opacity="0.7"/>
<polyline points="1118,352 1160,355 1258,372 1357,390" fill="none" stroke="#939393" stroke-width="26" stroke-linecap="round" stroke-linejoin="round" filter="url(#bb6)"/>
<polyline points="1125,352 1160,354 1258,370 1357,386" fill="none" stroke="#b9b9b9" stroke-width="10" stroke-linecap="round" stroke-linejoin="round" filter="url(#bb3)"/>
<polyline points="1215,390 1290,397 1357,404" fill="none" stroke="#8f8f8f" stroke-width="18" stroke-linecap="round" stroke-linejoin="round" filter="url(#bb5)"/>
<polyline points="1240,392 1300,397 1357,401" fill="none" stroke="#b9b9b9" stroke-width="9" stroke-linecap="round" stroke-linejoin="round" filter="url(#bb3)" opacity="0.95"/>
<polyline points="1150,400 1250,425 1357,432" fill="none" stroke="#656565" stroke-width="20" stroke-linecap="round" stroke-linejoin="round" filter="url(#bb7)" opacity="0.75"/>
</g></g>
<path class="ti" d="M816 195h8 M1355 195h-8"/>
<text class="tk" text-anchor="end" x="805.3" y="203.9">1.105</text>
<path class="ti" d="M816 401h8 M1355 401h-8"/>
<text class="tk" text-anchor="end" x="805.3" y="409.9">1.103</text>
<path class="ti" d="M940 92.5v8 M940 451.5v-8"/>
<text class="tk" text-anchor="middle" x="937.7" y="480.2">-0.6</text>
<path class="ti" d="M1149 92.5v8 M1149 451.5v-8"/>
<text class="tk" text-anchor="middle" x="1146.7" y="480.2">-0.7</text>
<rect class="bx" x="903.5" y="204" width="96.5" height="125"/>
<rect class="bx" x="1034" y="223" width="122" height="162"/>
<text class="pl" x="688.8" y="23.5">b</text>
<text class="sm" x="937.7" y="71.5">PL (counts)</text>
<text class="nm" x="1068.5" y="57">50</text>
<text class="nm" x="1161.5" y="57">600</text>
<rect x="1084" y="64.5" width="94" height="10.5" fill="url(#cb)"/>
<text class="tr" x="842.3" y="417">Trap 5</text>
<text class="ax" text-anchor="middle" transform="translate(714 267.5) rotate(-90)">Energy (eV)</text>
<text class="nu" text-anchor="middle" x="1075.6" y="503">ν</text>
<!-- panel c -->
<g clip-path="url(#cpc)"><g filter="url(#cmc)">
<rect x="75.5" y="562.8" width="639.5" height="458.20000000000005" fill="#292929"/>
<polygon points="80,560 720,560 720,790 600,770 500,760 400,770 300,790 230,760 80,745" fill="#444444" filter="url(#bc9)"/>
<polyline points="110,633 330,633" fill="none" stroke="#4e4e4e" stroke-width="9" stroke-linecap="round" stroke-linejoin="round" filter="url(#bc3)" opacity="0.7"/>
<polygon points="300,560 720,560 720,700 600,680 500,672 420,668 340,650" fill="#6e6e6e" filter="url(#bc10)"/>
<polygon points="470,560 720,560 720,720 620,690 540,672" fill="#7b7b7b" filter="url(#bc10)" opacity="0.9"/>
<polygon points="540,668 720,668 720,785 640,770 555,750" fill="#717171" filter="url(#bc10)" opacity="0.9"/>
<polygon points="600,670 720,670 720,770 650,750" fill="#7b7b7b" filter="url(#bc9)" opacity="0.7"/>
<polyline points="365,684 540,684" fill="none" stroke="#3b3b3b" stroke-width="12" stroke-linecap="round" stroke-linejoin="round" filter="url(#bc4)" opacity="0.85"/>
<rect x="228" y="676" width="126" height="24" fill="#333333" filter="url(#bc5)" opacity="0.8"/>
<ellipse cx="640" cy="646" rx="85" ry="24" fill="#a0a0a0" filter="url(#bc10)" opacity="0.9"/>
<ellipse cx="650" cy="646" rx="55" ry="17" fill="#c2c2c2" filter="url(#bc6)"/>
<ellipse cx="662" cy="646" rx="30" ry="13" fill="#fefefe" filter="url(#bc5)"/>
<polyline points="110,716 160,716 230,718 272,720" fill="none" stroke="#676767" stroke-width="18" stroke-linecap="round" stroke-linejoin="round" filter="url(#bc4_5)"/>
<polyline points="160,717 228,719" fill="none" stroke="#797979" stroke-width="11" stroke-linecap="round" stroke-linejoin="round" filter="url(#bc3_5)" opacity="0.9"/>
<polyline points="110,665 230,665" fill="none" stroke="#515151" stroke-width="8" stroke-linecap="round" stroke-linejoin="round" filter="url(#bc3)" opacity="0.7"/>
<ellipse cx="314" cy="769" rx="26" ry="8" fill="#828282" filter="url(#bc4)"/>
<ellipse cx="320" cy="790" rx="35" ry="12" fill="#4c4c4c" filter="url(#bc6)" opacity="0.8"/>
<ellipse cx="300" cy="745" rx="40" ry="12" fill="#4c4c4c" filter="url(#bc6)" opacity="0.7"/>
<ellipse cx="372" cy="741" rx="14" ry="10" fill="#7e7e7e" filter="url(#bc4_5)"/>
<polyline points="390,732 480,732" fill="none" stroke="#989898" stroke-width="26" stroke-linecap="round" stroke-linejoin="round" filter="url(#bc4_5)"/>
<polyline points="394,732 477,732" fill="none" stroke="#fefefe" stroke-width="9" stroke-linecap="round" stroke-linejoin="round" filter="url(#bc1_8)"/>
<polyline points="430,723 474,723" fill="none" stroke="#e3e3e3" stroke-width="8" stroke-linecap="round" stroke-linejoin="round" filter="url(#bc2)"/>
<polyline points="388,742 440,742" fill="none" stroke="#939393" stroke-width="6" stroke-linecap="round" stroke-linejoin="round" filter="url(#bc2_5)" opacity="0.8"/>
<polyline points="390,758 500,758" fill="none" stroke="#4c4c4c" stroke-width="14" stroke-linecap="round" stroke-linejoin="round" filter="url(#bc5)" opacity="0.7"/>
<polygon points="400,774 600,767 640,790 600,818 400,813" fill="#202020" filter="url(#bc8)" opacity="0.8"/>
<polyline points="395,812 520,812" fill="none" stroke="#3b3b3b" stroke-width="7" stroke-linecap="round" stroke-linejoin="round" filter="url(#bc3_5)" opacity="0.6"/>
<polygon points="540,800 720,790 720,850 540,848" fill="#3b3b3b" filter="url(#bc8)" opacity="0.8"/>
<ellipse cx="493" cy="829" rx="17" ry="9" fill="#656565" filter="url(#bc4)"/>
<ellipse cx="495" cy="828" rx="8" ry="4.5" fill="#a0a0a0" filter="url(#bc2_2)"/>
<polyline points="505,838 520,852 529,871" fill="none" stroke="#6e6e6e" stroke-width="12" stroke-linecap="round" stroke-linejoin="round" filter="url(#bc4)"/>
<polygon points="533,850 720,846 720,940 640,927 590,903 548,878" fill="#676767" filter="url(#bc8)"/>
<polygon points="590,870 720,862 720,930 660,920 620,900" fill="#7b7b7b" filter="url(#bc8)" opacity="0.9"/>
<ellipse cx="660" cy="908" rx="22" ry="18" fill="#8c8c8c" filter="url(#bc7)" opacity="0.8"/>
<polygon points="560,935 720,935 720,1000 600,1000" fill="#424242" filter="url(#bc8)" opacity="0.8"/>
<polygon points="80,778 230,780 300,815 400,830 480,875 530,890 600,960 640,1020 80,1020" fill="#1d1d1d" filter="url(#bc9)" opacity="0.9"/>
</g></g>
<path class="ti" d="M125.5 732h8 M665 732h-8"/>
<text class="tk" text-anchor="end" x="114.8" y="740.9">1.105</text>
<path class="ti" d="M125.5 853h8 M665 853h-8"/>
<text class="tk" text-anchor="end" x="114.8" y="861.9">1.104</text>
<path class="ti" d="M259.5 612.8v8 M259.5 971v-8"/>
<text class="tk" text-anchor="middle" x="257.2" y="999.7">-0.6</text>
<path class="ti" d="M530 612.8v8 M530 971v-8"/>
<text class="tk" text-anchor="middle" x="527.7" y="999.7">-0.7</text>
<rect class="bx" x="227.5" y="673.5" width="125.5" height="152.0"/>
<rect class="bx" x="386.5" y="692.5" width="143.5" height="180.5"/>
<text class="pl" x="-2.4" y="582.5">c</text>
<text class="sm" x="279.2" y="598.5">PL (counts)</text>
<text class="nm" x="408.5" y="584">50</text>
<text class="nm" x="501.0" y="584">300</text>
<rect x="424" y="590.5" width="94" height="10.5" fill="url(#cb)"/>
<text class="tr" x="141.8" y="941.5">Trap 6</text>
<text class="ax" text-anchor="middle" transform="translate(24.3 791) rotate(-90)">Energy (eV)</text>
<text class="nu" text-anchor="middle" x="395.6" y="1029">ν</text>
<!-- panel d -->
<g clip-path="url(#cpd)"><g filter="url(#cmd)">
<rect x="768" y="566.8" width="637" height="460.70000000000005" fill="#767676"/>
<polygon points="770,570 1400,570 1400,700 1250,690 1100,700 1000,690 900,670 770,655" fill="#7e7e7e" filter="url(#bd10)"/>
<polygon points="1000,570 1400,570 1400,690 1200,690 1080,684 1010,650" fill="#8f8f8f" filter="url(#bd10)"/>
<polygon points="1030,690 1130,690 1125,805 1080,815 1045,765" fill="#828282" filter="url(#bd10)" opacity="0.85"/>
<polygon points="1296,660 1400,660 1400,840 1300,830" fill="#8f8f8f" filter="url(#bd9)"/>
<polygon points="1310,690 1400,690 1400,770 1315,765" fill="#9b9b9b" filter="url(#bd8)" opacity="0.8"/>
<polygon points="770,570 900,570 880,700 770,700" fill="#656565" filter="url(#bd12)" opacity="0.8"/>
<polyline points="800,693 950,693" fill="none" stroke="#606060" stroke-width="10" stroke-linecap="round" stroke-linejoin="round" filter="url(#bd4)" opacity="0.7"/>
<polyline points="800,716 880,716 1005,716" fill="none" stroke="#797979" stroke-width="22" stroke-linecap="round" stroke-linejoin="round" filter="url(#bd5)"/>
<polyline points="900,718 1000,716" fill="none" stroke="#8c8c8c" stroke-width="12" stroke-linecap="round" stroke-linejoin="round" filter="url(#bd4)" opacity="0.9"/>
<polygon points="770,735 900,742 960,752 1010,775 1040,805 1090,822 1130,765 1200,760 1250,775 1290,830 1400,860 1400,1030 770,1030" fill="#4c4c4c" filter="url(#bd8)"/>
<polygon points="770,762 880,772 950,805 1010,832 1100,855 1230,866 1275,888 1310,922 1358,945 1400,965 1400,1030 770,1030" fill="#333333" filter="url(#bd10)"/>
<polygon points="770,800 880,812 980,845 1100,868 1240,876 1275,900 1305,930 1358,955 1400,975 1400,1030 770,1030" fill="#242424" filter="url(#bd8)"/>
<ellipse cx="1038" cy="782" rx="30" ry="13" fill="#898989" filter="url(#bd6)"/>
<polyline points="1080,700 1100,760 1110,800" fill="none" stroke="#767676" stroke-width="30" stroke-linecap="round" stroke-linejoin="round" filter="url(#bd9)" opacity="0.8"/>
<polygon points="1127,755 1220,755 1300,770 1300,830 1127,790" fill="#6a6a6a" filter="url(#bd8)" opacity="0.6"/>
<ellipse cx="1205" cy="818" rx="45" ry="22" fill="#474747" filter="url(#bd9)" opacity="0.9"/>
<polygon points="1262,770 1302,770 1302,840 1270,835" fill="#717171" filter="url(#bd7)" opacity="0.8"/>
<polyline points="1128,737 1258,737" fill="none" stroke="#9d9d9d" stroke-width="32" stroke-linecap="round" stroke-linejoin="round" filter="url(#bd5_5)"/>
<polyline points="1143,739 1248,739" fill="none" stroke="#fefefe" stroke-width="11" stroke-linecap="round" stroke-linejoin="round" filter="url(#bd2_2)"/>
<polyline points="1168,727 1227,727" fill="none" stroke="#fefefe" stroke-width="8" stroke-linecap="round" stroke-linejoin="round" filter="url(#bd2)"/>
<ellipse cx="1120" cy="742" rx="10" ry="12" fill="#989898" filter="url(#bd5)" opacity="0.8"/>
<ellipse cx="1254" cy="857" rx="26" ry="12" fill="#8f8f8f" filter="url(#bd4_5)"/>
<ellipse cx="1254" cy="856" rx="13" ry="6" fill="#a9a9a9" filter="url(#bd3)"/>
<polygon points="1300,835 1400,835 1400,872 1300,868" fill="#6e6e6e" filter="url(#bd7)" opacity="0.8"/>
<polygon points="1285,895 1400,890 1400,942 1330,940 1290,925" fill="#717171" filter="url(#bd7)" opacity="0.9"/>
<polygon points="1320,902 1400,900 1400,935 1330,932" fill="#828282" filter="url(#bd6)" opacity="0.8"/>
<polygon points="1296,934 1400,945 1400,975 1340,965 1305,950" fill="#4c4c4c" filter="url(#bd5)" opacity="0.9"/>
<polygon points="1110,570 1265,570 1262,640 1240,650 1120,646" fill="#b4b4b4" filter="url(#bd7)"/>
<polygon points="1142,570 1256,570 1254,627 1146,627" fill="#fefefe" filter="url(#bd4)"/>
<polygon points="1254,570 1258,617 1288,645 1311,663 1358,684 1400,700 1400,570" fill="#fefefe" filter="url(#bd5)"/>
<polyline points="1250,625 1284,655 1310,674 1358,696" fill="none" stroke="#b9b9b9" stroke-width="12" stroke-linecap="round" stroke-linejoin="round" filter="url(#bd5)" opacity="0.8"/>
<polygon points="770,858 900,864 970,870 1091,884 1127,883 1249,890 1275,912 1302,940 1358,964 1400,985 1400,1030 770,1030" fill="#050505" filter="url(#bd5)"/>
</g></g>
<path class="ti" d="M818 689h8 M1355 689h-8"/>
<text class="tk" text-anchor="end" x="807.3" y="697.9">1.106</text>
<path class="ti" d="M818 834h8 M1355 834h-8"/>
<text class="tk" text-anchor="end" x="807.3" y="842.9">1.105</text>
<path class="ti" d="M981.5 616.8v8 M981.5 977.5v-8"/>
<text class="tk" text-anchor="middle" x="979.2" y="1006.2">-0.6</text>
<path class="ti" d="M1310 616.8v8 M1310 977.5v-8"/>
<text class="tk" text-anchor="middle" x="1307.7" y="1006.2">-0.7</text>
<rect class="bx" x="951.5" y="676" width="125.5" height="166.5"/>
<rect class="bx" x="1127.5" y="693.5" width="174.5" height="215.0"/>
<text class="pl" x="688.8" y="582.5">d</text>
<text class="sm" x="943.7" y="592.8">PL (counts)</text>
<text class="nm" x="1073.5" y="578.5">100</text>
<text class="nm" x="1167.5" y="578.5">500</text>
<rect x="1090" y="585" width="94" height="11" fill="url(#cb)"/>
<text class="tr" x="842.8" y="949">Trap 7</text>
<text class="ax" text-anchor="middle" transform="translate(714 792.5) rotate(-90)">Energy (eV)</text>
<text class="nu" text-anchor="middle" x="1078.7" y="1031">ν</text>
<!-- panel e -->
<g clip-path="url(#cpe)"><g filter="url(#cme)">
<rect x="78" y="1097.8" width="638.5" height="459.70000000000005" fill="#3b3b3b"/>
<polygon points="80,1100 720,1100 720,1340 600,1330 500,1305 400,1315 300,1305 80,1270" fill="#4c4c4c" filter="url(#be12)"/>
<polygon points="80,1440 500,1450 720,1470 720,1560 80,1560" fill="#363636" filter="url(#be10)"/>
<polygon points="290,1100 720,1100 720,1195 560,1190 450,1182 340,1178" fill="#6e6e6e" filter="url(#be8)"/>
<polyline points="360,1164 480,1164" fill="none" stroke="#898989" stroke-width="14" stroke-linecap="round" stroke-linejoin="round" filter="url(#be5)" opacity="0.85"/>
<polygon points="500,1100 720,1100 720,1300 640,1280 570,1245 530,1200" fill="#898989" filter="url(#be12)"/>
<ellipse cx="660" cy="1205" rx="90" ry="50" fill="#a9a9a9" filter="url(#be12)" opacity="0.9"/>
<ellipse cx="668" cy="1206" rx="45" ry="30" fill="#c2c2c2" filter="url(#be8)"/>
<polygon points="568,1250 720,1250 720,1330 640,1320 570,1300" fill="#656565" filter="url(#be9)" opacity="0.8"/>
<polyline points="570,1325 666,1327" fill="none" stroke="#3f3f3f" stroke-width="12" stroke-linecap="round" stroke-linejoin="round" filter="url(#be5)" opacity="0.6"/>
<polyline points="100,1201 180,1202 225,1206" fill="none" stroke="#646464" stroke-width="18" stroke-linecap="round" stroke-linejoin="round" filter="url(#be5)"/>
<polyline points="228,1215 295,1222" fill="none" stroke="#696969" stroke-width="22" stroke-linecap="round" stroke-linejoin="round" filter="url(#be6)" opacity="0.9"/>
<polyline points="100,1180 230,1180" fill="none" stroke="#444444" stroke-width="10" stroke-linecap="round" stroke-linejoin="round" filter="url(#be4)" opacity="0.6"/>
<ellipse cx="335" cy="1238" rx="28" ry="16" fill="#3f3f3f" filter="url(#be7)" opacity="0.8"/>
<ellipse cx="328" cy="1272" rx="34" ry="12" fill="#6a6a6a" filter="url(#be6)"/>
<polyline points="380,1190 392,1250" fill="none" stroke="#3f3f3f" stroke-width="16" stroke-linecap="round" stroke-linejoin="round" filter="url(#be6)" opacity="0.7"/>
<ellipse cx="392" cy="1262" rx="16" ry="22" fill="#606060" filter="url(#be7)" opacity="0.8"/>
<polyline points="422,1241 515,1241" fill="none" stroke="#6e6e6e" stroke-width="18" stroke-linecap="round" stroke-linejoin="round" filter="url(#be4_5)"/>
<polyline points="440,1241 505,1241" fill="none" stroke="#939393" stroke-width="9" stroke-linecap="round" stroke-linejoin="round" filter="url(#be3)"/>
<polyline points="456,1242 496,1242" fill="none" stroke="#bebebe" stroke-width="7" stroke-linecap="round" stroke-linejoin="round" filter="url(#be2_2)"/>
<polygon points="430,1265 560,1265 560,1325 430,1340" fill="#393939" filter="url(#be8)" opacity="0.8"/>
<ellipse cx="524" cy="1338" rx="24" ry="9" fill="#717171" filter="url(#be4_5)"/>
<polyline points="538,1348 552,1360 562,1374" fill="none" stroke="#606060" stroke-width="12" stroke-linecap="round" stroke-linejoin="round" filter="url(#be4_5)" opacity="0.9"/>
<polygon points="560,1352 720,1345 720,1428 640,1415 590,1390" fill="#606060" filter="url(#be8)"/>
<polygon points="605,1372 720,1365 720,1420 650,1410" fill="#7e7e7e" filter="url(#be7)" opacity="0.9"/>
<ellipse cx="662" cy="1395" rx="18" ry="12" fill="#8f8f8f" filter="url(#be6)" opacity="0.8"/>
<polygon points="520,1430 720,1425 720,1560 560,1560" fill="#494949" filter="url(#be10)" opacity="0.7"/>
</g></g>
<path class="ti" d="M128 1267h8 M666.5 1267h-8"/>
<text class="tk" text-anchor="end" x="117.3" y="1275.9">1.104</text>
<path class="ti" d="M128 1387.5h8 M666.5 1387.5h-8"/>
<text class="tk" text-anchor="end" x="117.3" y="1396.4">1.103</text>
<path class="ti" d="M277.5 1147.8v8 M277.5 1507.5v-8"/>
<text class="tk" text-anchor="middle" x="275.2" y="1536.2">-0.6</text>
<path class="ti" d="M577.5 1147.8v8 M577.5 1507.5v-8"/>
<text class="tk" text-anchor="middle" x="575.2" y="1536.2">-0.7</text>
<rect class="bx" x="227.5" y="1185" width="138.0" height="137.5"/>
<rect class="bx" x="411" y="1202.5" width="156.5" height="172.5"/>
<text class="pl" x="-2.4" y="1121.5">e</text>
<text class="sm" x="238.7" y="1126.8">PL (counts)</text>
<text class="nm" x="367.5" y="1112.5">20</text>
<text class="nm" x="462.0" y="1112.5">400</text>
<rect x="383.5" y="1118.5" width="93.5" height="10.5" fill="url(#cb)"/>
<text class="tr" x="146.3" y="1472.5">Trap 8</text>
<text class="ax" text-anchor="middle" transform="translate(24.3 1324) rotate(-90)">Energy (eV)</text>
<text class="nu" text-anchor="middle" x="403.6" y="1565">ν</text>
<!-- panel f -->
<g clip-path="url(#cpf)"><g filter="url(#cmf)">
<rect x="766.5" y="1091.5" width="638.2" height="459.5" fill="#000000"/>
<polygon points="770,1230 900,1245 1000,1275 1100,1290 1200,1310 1290,1360 1400,1390 1400,1500 1300,1478 1245,1466 1196,1456 1196,1390 1090,1392 1069,1400 1023,1402 988,1393 965,1379 931,1368 885,1361 839,1347 770,1338" fill="#4c4c4c" filter="url(#bf4)"/>
<polygon points="1090,1300 1200,1300 1200,1372 1150,1366 1090,1368" fill="#4c4c4c" filter="url(#bf4)"/>
<ellipse cx="1164" cy="1326" rx="16" ry="10" fill="#3f3f3f" filter="url(#bf5)" opacity="0.8"/>
<ellipse cx="905" cy="1335" rx="9" ry="7" fill="#343434" filter="url(#bf4)" opacity="0.8"/>
<ellipse cx="1010" cy="1354" rx="36" ry="15" fill="#333333" filter="url(#bf7)" opacity="0.85"/>
<ellipse cx="1222" cy="1405" rx="22" ry="19" fill="#2e2e2e" filter="url(#bf7)" opacity="0.85"/>
<polygon points="1090,1372 1150,1370 1192,1380 1192,1420 1090,1420" fill="#000000" filter="url(#bf4)"/>
<polyline points="800,1333 862,1337 894,1348 912,1352 930,1346 945,1338 958,1336" fill="none" stroke="#717171" stroke-width="8" stroke-linecap="round" stroke-linejoin="round" filter="url(#bf2_8)"/>
<polyline points="938,1341 958,1336" fill="none" stroke="#9d9d9d" stroke-width="7" stroke-linecap="round" stroke-linejoin="round" filter="url(#bf2_2)"/>
<polyline points="958,1338 966,1356 978,1373 992,1380 1023,1381 1046,1378 1069,1371 1087,1358 1097,1350" fill="none" stroke="#6e6e6e" stroke-width="8" stroke-linecap="round" stroke-linejoin="round" filter="url(#bf3)"/>
<polyline points="1023,1381 1046,1378 1069,1370 1090,1356" fill="none" stroke="#828282" stroke-width="7" stroke-linecap="round" stroke-linejoin="round" filter="url(#bf2_5)" opacity="0.9"/>
<polyline points="1058,1362 1090,1345" fill="none" stroke="#767676" stroke-width="14" stroke-linecap="round" stroke-linejoin="round" filter="url(#bf4)" opacity="0.8"/>
<polyline points="1098,1352 1156,1351" fill="none" stroke="#a0a0a0" stroke-width="12" stroke-linecap="round" stroke-linejoin="round" filter="url(#bf3)"/>
<polyline points="1108,1350.5 1145,1350.5" fill="none" stroke="#fefefe" stroke-width="6" stroke-linecap="round" stroke-linejoin="round" filter="url(#bf1_5)"/>
<ellipse cx="1168" cy="1410" rx="27" ry="13" fill="#3f3f3f" filter="url(#bf5)" opacity="0.9"/>
<ellipse cx="1166" cy="1409" rx="21" ry="8" fill="#656565" filter="url(#bf3_5)"/>
<ellipse cx="1165" cy="1409" rx="10" ry="4" fill="#a0a0a0" filter="url(#bf2)"/>
<polygon points="1174,1422 1196,1420 1196,1447 1178,1444" fill="#4f4f4f" filter="url(#bf4)"/>
<polyline points="1196,1436 1270,1448 1354,1466" fill="none" stroke="#6e6e6e" stroke-width="13" stroke-linecap="round" stroke-linejoin="round" filter="url(#bf4)"/>
<polyline points="1270,1450 1354,1468" fill="none" stroke="#878787" stroke-width="9" stroke-linecap="round" stroke-linejoin="round" filter="url(#bf3_5)" opacity="0.9"/>
<polyline points="1250,1425 1354,1440" fill="none" stroke="#606060" stroke-width="8" stroke-linecap="round" stroke-linejoin="round" filter="url(#bf4)" opacity="0.7"/>
<polyline points="770,1235 816,1246 862,1257 908,1271 954,1285 1000,1301 1046,1317 1080,1314 1104,1308 1127,1301 1157,1301 1173,1315 1196,1328 1219,1347 1242,1363 1288,1381 1334,1395 1400,1417" fill="none" stroke="#6e6e6e" stroke-width="24" stroke-linecap="round" stroke-linejoin="round" filter="url(#bf7)" opacity="0.9"/>
<polyline points="770,1222 816,1233 862,1244 908,1258 954,1272 1000,1288 1046,1304 1080,1301 1104,1295 1127,1288 1157,1288 1173,1302 1196,1315 1219,1334 1242,1350 1288,1368 1334,1382 1400,1404" fill="none" stroke="#939393" stroke-width="20" stroke-linecap="round" stroke-linejoin="round" filter="url(#bf5)"/>
<polyline points="770,1210 816,1221 862,1232 908,1246 954,1260 1000,1276 1046,1292 1080,1289 1104,1283 1127,1276 1157,1276 1173,1290 1196,1303 1219,1322 1242,1338 1288,1356 1334,1370 1400,1392" fill="none" stroke="#bebebe" stroke-width="16" stroke-linecap="round" stroke-linejoin="round" filter="url(#bf4)"/>
<ellipse cx="1140" cy="1284" rx="30" ry="14" fill="#c0c0c0" filter="url(#bf5)"/>
<polyline points="770,1120 816,1128 885,1139 954,1153 1000,1164 1046,1174 1058,1179 1127,1180 1173,1182 1196,1189 1219,1199 1265,1217 1311,1231 1400,1252" fill="none" stroke="#4c4c4c" stroke-width="14" stroke-linecap="round" stroke-linejoin="round" filter="url(#bf3_5)"/>
<polyline points="770,1128 816,1136 885,1147 954,1161 1000,1172 1046,1182 1058,1187 1127,1188 1173,1190 1196,1197 1219,1207 1265,1225 1311,1239 1400,1260" fill="none" stroke="#8f8f8f" stroke-width="10" stroke-linecap="round" stroke-linejoin="round" filter="url(#bf3)"/>
<polyline points="770,1134 816,1142 885,1153 954,1167 1000,1178 1046,1188 1058,1193 1127,1194 1173,1196 1196,1203 1219,1213 1265,1231 1311,1245 1400,1266" fill="none" stroke="#bebebe" stroke-width="8" stroke-linecap="round" stroke-linejoin="round" filter="url(#bf2_5)"/>
<polygon points="770,1136 816,1144 885,1155 954,1169 1000,1180 1046,1190 1058,1195 1127,1196 1173,1198 1196,1205 1219,1215 1265,1233 1311,1247 1400,1268 1400,1386 1334,1364 1288,1350 1242,1332 1219,1316 1196,1297 1173,1284 1157,1270 1127,1270 1104,1277 1080,1283 1046,1286 1000,1270 954,1254 908,1240 862,1226 816,1215 770,1204" fill="#fefefe" filter="url(#bf3)"/>
</g></g>
<path class="ti" d="M816.5 1266.5h8 M1354.7 1266.5h-8"/>
<text class="tk" text-anchor="end" x="805.8" y="1275.4">1.107</text>
<path class="ti" d="M816.5 1424h8 M1354.7 1424h-8"/>
<text class="tk" text-anchor="end" x="805.8" y="1432.9">1.105</text>
<path class="ti" d="M950.5 1141.5v8 M950.5 1501v-8"/>
<text class="tk" text-anchor="middle" x="948.2" y="1529.7">-0.6</text>
<path class="ti" d="M1221.5 1141.5v8 M1221.5 1501v-8"/>
<text class="tk" text-anchor="middle" x="1219.2" y="1529.7">-0.7</text>
<rect class="bx" x="1090" y="1307.5" width="104" height="149.0"/>
<text class="pl" x="688.8" y="1120.5">f</text>
<text class="sm" x="934.7" y="1115">PL (counts)</text>
<text class="nm" x="1065.0" y="1101">230</text>
<text class="nm" x="1158.5" y="1101">900</text>
<rect x="1080" y="1106.5" width="94" height="11.0" fill="url(#cb)"/>
<text class="tr" x="842.8" y="1465">Trap 9</text>
<text class="ax" text-anchor="middle" transform="translate(714 1322.5) rotate(-90)">Energy (eV)</text>
<text class="nu" text-anchor="middle" x="1083.7" y="1557.9">ν</text>
</svg></body></html>
